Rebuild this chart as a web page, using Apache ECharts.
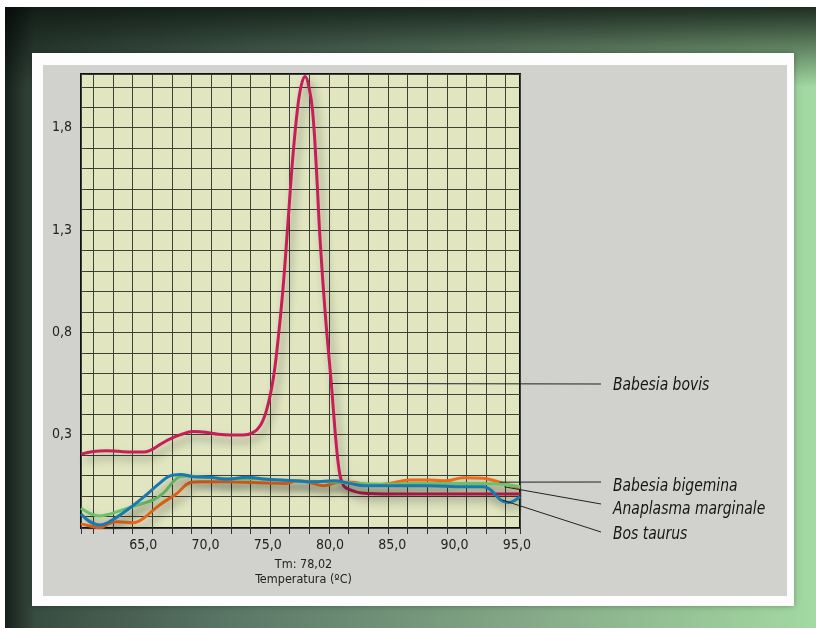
<!DOCTYPE html>
<html><head><meta charset="utf-8">
<script src="https://cdn.jsdelivr.net/npm/echarts@6/dist/echarts.min.js"></script>
<style>html,body{margin:0;padding:0;background:#fff}#c{width:816px;height:628px}</style>
</head><body><div id="c"></div>
<script>
// ---- data ----
const xTickLabels = [65, 70, 75, 80, 85, 90, 95];
const yTickLabels = [0.3, 0.8, 1.3, 1.8];
const seriesNames = ['Babesia bovis', 'Babesia bigemina', 'Anaplasma marginale', 'Bos taurus'];
const tmLabel = 'Tm: 78,02';
const xAxisTitle = 'Temperatura (ºC)';

const babesiaBovis = [[60,0.205],[61,0.218],[62,0.222],[63,0.219],[64,0.215],[65,0.215],[65.6,0.225],[66.3,0.25],[67,0.275],[68,0.30],[69,0.315],[70,0.312],[71,0.302],[72,0.298],[73,0.298],[73.8,0.31],[74.4,0.345],[74.9,0.42],[75.4,0.56],[75.8,0.75],[76.2,1.0],[76.6,1.32],[77.0,1.65],[77.4,1.9],[77.7,2.01],[78.0,2.05],[78.3,2.0],[78.6,1.88],[78.9,1.6],[79.2,1.25],[79.6,0.9],[80.1,0.55],[80.5,0.25],[80.8,0.10],[81.1,0.05],[81.6,0.03],[82.5,0.015],[85,0.01],[90,0.01],[95.25,0.01]];
const babesiaBigemina = [[60,-0.136],[60.7,-0.146],[61.5,-0.155],[62.3,-0.133],[62.9,-0.125],[64.2,-0.13],[65,-0.109],[66.3,-0.044],[67.7,0.013],[68.75,0.065],[69.6,0.07],[71.7,0.07],[74.4,0.065],[76.5,0.062],[77.3,0.075],[78.1,0.07],[79.5,0.051],[80.5,0.065],[81.6,0.067],[83.5,0.054],[84.8,0.062],[86.4,0.078],[88,0.078],[89.4,0.075],[90.7,0.09],[92.3,0.087],[93.9,0.062],[95.25,0.038]];
const anaplasmaMarginale = [[60,-0.06],[60.7,-0.084],[61.5,-0.097],[62.3,-0.088],[63.7,-0.06],[65,-0.035],[65.8,-0.019],[66.6,0.013],[67.7,0.087],[68.5,0.098],[70,0.092],[72,0.085],[74,0.085],[76,0.078],[78,0.072],[80,0.07],[82,0.062],[84,0.058],[86,0.06],[88,0.062],[90,0.062],[92,0.062],[93.4,0.06],[95.25,0.046]];
const bosTaurus = [[60,-0.088],[60.7,-0.125],[61.5,-0.141],[62.3,-0.125],[63.7,-0.068],[65,-0.006],[66.3,0.062],[67.1,0.098],[68,0.106],[69,0.095],[70.4,0.092],[71.7,0.082],[73.3,0.092],[74.9,0.082],[77.1,0.075],[78.7,0.07],[80.3,0.075],[81.6,0.062],[82.7,0.051],[85.4,0.051],[88,0.051],[90.7,0.046],[92.3,0.046],[92.9,0.03],[93.7,-0.019],[94.3,-0.032],[94.9,-0.019],[95.25,-0.003]];
// points on the curves where the label leader lines start
const leaderAnchors = [[80.15,0.55],[93.6,0.068],[94.0,0.045],[93.85,-0.02]];

// ---- style ----
const FONT = "'Liberation Sans Narrow','DejaVu Sans Condensed',sans-serif";
const colors = ['#c81e58', '#f26b1d', '#6cc36c', '#1a78b0'];
const seriesData = [babesiaBovis, babesiaBigemina, anaplasmaMarginale, bosTaurus];
const drawOrder = [0, 2, 1, 3];
const labelY = [385, 486, 509, 534];
const leaderEndY = [384, 482, 504, 532];
const gridLine = {color: '#3b4236', width: 1};

const fmt = v => v.toFixed(1).replace('.', ',');
const near = (arr, v) => arr.some(t => Math.abs(t - v) < 1e-6);

const chart = echarts.init(document.getElementById('c'), null, {renderer: 'canvas'});

const bgGraphics = [
  {type: 'rect', z: -100, shape: {x: 5, y: 7, width: 811, height: 621},
   style: {fill: new echarts.graphic.LinearGradient(0, 0, 1, 0, [
     {offset: 0, color: '#33463c'}, {offset: 0.3, color: '#5d7a68'},
     {offset: 0.65, color: '#86aa88'}, {offset: 1, color: '#a3d9a2'}])}},
  {type: 'rect', z: -99, shape: {x: 5, y: 7, width: 811, height: 80},
   style: {fill: new echarts.graphic.LinearGradient(0, 0, 0, 1, [
     {offset: 0, color: 'rgba(12,22,16,0.88)'}, {offset: 1, color: 'rgba(12,22,16,0)'}])}},
  {type: 'rect', z: -99, shape: {x: 5, y: 7, width: 30, height: 621},
   style: {fill: new echarts.graphic.LinearGradient(0, 0, 1, 0, [
     {offset: 0, color: 'rgba(0,0,0,0.55)'}, {offset: 1, color: 'rgba(0,0,0,0)'}])}},
  {type: 'rect', z: -98, shape: {x: 32, y: 53, width: 762, height: 553},
   style: {fill: '#fdfdfd', shadowColor: 'rgba(0,0,0,0.3)', shadowBlur: 6}},
  {type: 'rect', z: -97, shape: {x: 43, y: 65, width: 744, height: 531},
   style: {fill: '#d1d1cd'}}
];

const labelGraphics = seriesNames.map((n, i) => ({
  type: 'text', z: 50, x: 613, y: labelY[i], scaleX: 0.86, scaleY: 1,
  style: {text: n, font: 'italic 18px ' + FONT, fill: '#151515', verticalAlign: 'middle', align: 'left'}
}));

const option = {
  animation: false,
  backgroundColor: 'transparent',
  grid: {left: 81, top: 74, width: 439, height: 454, show: true,
         backgroundColor: '#e1e6c1', borderColor: '#111', borderWidth: 2, z: 0},
  xAxis: [
    {type: 'value', min: 60, max: 95.25, interval: 5, position: 'bottom',
     axisLine: {show: false}, axisTick: {show: false}, splitLine: {show: false},
     axisLabel: {margin: 10, color: '#222', fontFamily: FONT, fontSize: 14,
                 formatter: v => near(xTickLabels, v) ? fmt(v) : ''},
     name: tmLabel + '\n' + xAxisTitle, nameLocation: 'middle', nameGap: 25,
     nameTextStyle: {color: '#222', fontFamily: FONT, fontSize: 12.5, lineHeight: 15, padding: [0, 0, 0, 6]}},
    {type: 'value', min: -0.626, max: 21.73, splitNumber: 22, minInterval: 1, maxInterval: 1,
     position: 'bottom', axisLine: {show: false}, axisLabel: {show: false},
     axisTick: {show: true, length: 6, lineStyle: {color: '#333'}},
     splitLine: {show: true, lineStyle: gridLine}}
  ],
  yAxis: [{type: 'value', min: -0.156, max: 2.0625, splitNumber: 22, minInterval: 0.1, maxInterval: 0.1,
    axisLine: {show: false},
    axisTick: {show: true, length: 6, lineStyle: {color: '#333'}},
    splitLine: {show: true, lineStyle: gridLine},
    axisLabel: {margin: 9, color: '#222', fontFamily: FONT, fontSize: 14,
                formatter: v => near(yTickLabels, v) ? fmt(v) : ''}}],
  series: drawOrder.map(i => ({
    name: seriesNames[i], type: 'line', xAxisIndex: 0, yAxisIndex: 0,
    data: seriesData[i], showSymbol: false, symbol: 'none', smooth: 0.4, z: 3 + i,
    clip: true,
    lineStyle: {color: colors[i], width: 3, shadowColor: 'rgba(0,0,0,0.4)', shadowBlur: 9,
                shadowOffsetX: 4, shadowOffsetY: 6}
  })),
  graphic: bgGraphics.concat(labelGraphics)
};
chart.setOption(option);

const leaders = leaderAnchors.map((p, i) => {
  const s = chart.convertToPixel({xAxisIndex: 0, yAxisIndex: 0}, p);
  return {type: 'line', z: 40, shape: {x1: s[0], y1: s[1], x2: 601, y2: leaderEndY[i]},
          style: {stroke: '#222', lineWidth: 1}};
});
chart.setOption({graphic: bgGraphics.concat(labelGraphics, leaders)});
</script></body></html>
